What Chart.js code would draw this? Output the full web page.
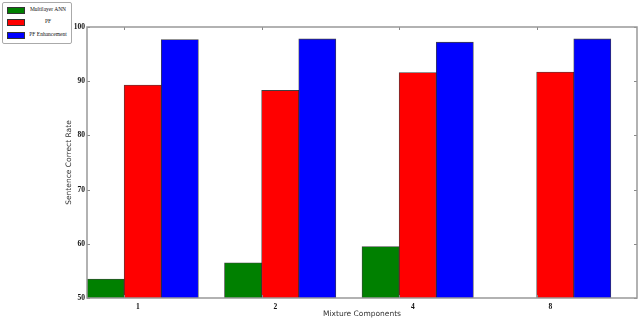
<!DOCTYPE html>
<html>
<head>
<meta charset="utf-8">
<script src="https://cdn.jsdelivr.net/npm/chart.js@4.4.1/dist/chart.umd.min.js"></script>
<style>
  html, body { margin: 0; padding: 0; background: #fff; }
  #wrap { position: relative; width: 640px; height: 319px; }
  #legend {
    position: absolute; left: 2px; top: 2px; width: 68px; height: 40px;
    border: 1px solid #aaa; border-radius: 2px; background: #fff;
    font-family: "Liberation Serif", "DejaVu Serif", serif; font-size: 5.5px; color: #111;
  }
  .item { position: absolute; left: 4px; width: 62px; height: 7px; }
  .patch { position: absolute; left: 0; top: 0; width: 16px; height: 5px; border: 0.8px solid #333; }
  .lbl { position: absolute; left: 20px; right: 0; top: -1px; text-align: center; white-space: nowrap; }
</style>
</head>
<body>
<div id="wrap">
  <canvas id="grafico" width="640" height="319"></canvas>
  <div id="legend"></div>
</div>
<script>
// dados
const componentes = ['1', '2', '4', '8'];
const seriesNomes = ['Multilayer ANN', 'PF', 'PF Enhancement'];
const seriesCores = ['#008000', '#ff0000', '#0000ff'];
const annValores = [53.5, 56.5, 59.5, null];
const pfValores = [89.3, 88.3, 91.6, 91.7];
const pfEnhValores = [97.7, 97.8, 97.2, 97.8];
const yTicks = [50, 60, 70, 80, 90, 100];

const largura = 0.27; // largura de cada barra em unidades do eixo x
const series = [annValores, pfValores, pfEnhValores];

const datasets = series.map((vals, s) => ({
    label: seriesNomes[s],
    data: vals.map((v, i) => ({ x: i + largura * (s + 0.5), y: v })),
    backgroundColor: seriesCores[s],
    borderColor: 'rgba(0,0,0,0.75)',
    borderWidth: 0.8,
    grouped: false,
    categoryPercentage: 1,
    barPercentage: 1
}));

// marcas internas estilo matplotlib
const marcasInternas = {
    id: 'marcasInternas',
    afterDatasetsDraw(chart) {
        const { ctx, chartArea: a, scales } = chart;
        ctx.save();
        ctx.strokeStyle = '#888';
        ctx.lineWidth = 1;
        ctx.beginPath();
        yTicks.forEach(v => {
            const y = Math.round(scales.y.getPixelForValue(v)) + 0.5;
            ctx.moveTo(a.left, y); ctx.lineTo(a.left + 3, y);
            ctx.moveTo(a.right, y); ctx.lineTo(a.right - 3, y);
        });
        componentes.forEach((c, i) => {
            const x = Math.round(scales.x.getPixelForValue(i + largura)) + 0.5;
            ctx.moveTo(x, a.top); ctx.lineTo(x, a.top + 3);
            ctx.moveTo(x, a.bottom); ctx.lineTo(x, a.bottom - 3);
        });
        ctx.stroke();
        ctx.strokeStyle = '#999';
        ctx.lineWidth = 1.5;
        ctx.strokeRect(a.left, a.top, a.right - a.left, a.bottom - a.top);
        ctx.restore();
    }
};

const ctx = document.getElementById('grafico').getContext('2d');
const grafico = new Chart(ctx, {
    type: 'bar',
    data: { datasets },
    plugins: [marcasInternas],
    options: {
        responsive: false,
        animation: false,
        layout: { padding: { top: 27, right: 3, left: 0, bottom: 0 } },
        plugins: { legend: { display: false }, tooltip: { enabled: false } },
        scales: {
            x: {
                type: 'linear',
                offset: false,
                min: 0,
                max: 4,
                afterBuildTicks: s => { s.ticks = componentes.map((c, i) => ({ value: i + 0.37 })); },
                afterFit: s => { s.height = 21; },
                grid: { display: false, drawTicks: false },
                border: { display: false },
                ticks: {
                    padding: 5,
                    maxRotation: 0,
                    color: '#111',
                    font: { family: 'Liberation Serif', size: 7.5, weight: 'bold' },
                    callback: (v, i) => componentes[i]
                },
                title: {
                    display: true,
                    text: 'Mixture Components',
                    color: '#333',
                    padding: { top: 0, bottom: 0 },
                    font: { family: 'DejaVu Sans', size: 7.5 }
                }
            },
            y: {
                min: 50,
                max: 100,
                afterBuildTicks: s => { s.ticks = yTicks.map(v => ({ value: v })); },
                afterFit: s => { s.width = 87; },
                grid: { display: false, drawTicks: false },
                border: { display: false },
                ticks: {
                    padding: 2,
                    color: '#111',
                    font: { family: 'Liberation Serif', size: 7.5, weight: 'bold' }
                },
                title: {
                    display: true,
                    text: 'Sentence Correct Rate',
                    color: '#333',
                    padding: { top: 65, bottom: 0 },
                    font: { family: 'DejaVu Sans', size: 7.5 }
                }
            }
        }
    }
});

// legenda em HTML
const legenda = document.getElementById('legend');
const topos = [4, 16, 29];
seriesNomes.forEach((nome, s) => {
    const item = document.createElement('div');
    item.className = 'item';
    item.style.top = topos[s] + 'px';
    const patch = document.createElement('div');
    patch.className = 'patch';
    patch.style.background = seriesCores[s];
    const lbl = document.createElement('div');
    lbl.className = 'lbl';
    lbl.textContent = nome;
    item.appendChild(patch);
    item.appendChild(lbl);
    legenda.appendChild(item);
});
</script>
</body>
</html>
